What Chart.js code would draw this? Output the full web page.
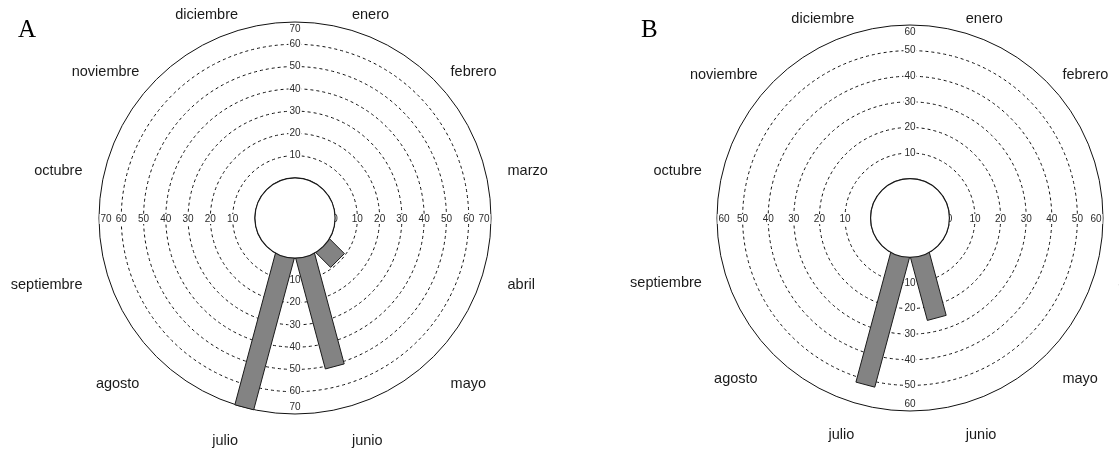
<!DOCTYPE html>
<html lang="es">
<head>
<meta charset="utf-8">
<title>Diagramas circulares mensuales A y B</title>
<script src="https://cdn.jsdelivr.net/npm/chart.js@4.4.1/dist/chart.umd.min.js"></script>
<style>
html, body { margin: 0; padding: 0; background: #fff; }
#wrap { position: relative; width: 1119px; height: 450px; overflow: hidden; background: #fff; }
.panel { position: absolute; top: 0; height: 450px; }
#panelA { left: 0; width: 560px; }
#panelB { left: 560px; width: 559px; }
</style>
</head>
<body>
<div id="wrap">
  <div class="panel" id="panelA"><canvas id="chartA" width="560" height="450"></canvas></div>
  <div class="panel" id="panelB"><canvas id="chartB" width="559" height="450"></canvas></div>
</div>
<script>
'use strict';

/* ── Données ── */
var MONTHS = ['enero', 'febrero', 'marzo', 'abril', 'mayo', 'junio',
              'julio', 'agosto', 'septiembre', 'octubre', 'noviembre', 'diciembre'];
var VALUES_A = [0, 0, 0, 0, 9, 51, 70, 0, 0, 0, 0, 0];
var VALUES_B = [0, 0, 0, 0, 0, 25, 52, 0, 0, 0, 0, 0];
var TICKS_A = [10, 20, 30, 40, 50, 60, 70];
var TICKS_B = [10, 20, 30, 40, 50, 60];

/* ── Étiquette de graduation avec fond blanc (coupe les cercles pointillés) ── */
function tickLabel(ctx, txt, x, y) {
    var w = ctx.measureText(txt).width;
    ctx.fillStyle = '#fff';
    ctx.fillRect(x - w / 2 - 1, y - 5, w + 2, 10);
    ctx.fillStyle = '#2b2b2b';
    ctx.fillText(txt, x, y);
}

/* ── Plugin : étiquettes, barres rectangulaires, disque central ── */
var rosePlugin = {
    id: 'rose',
    beforeDatasetsDraw: function (chart, args, opts) {
        var s = chart.scales.r, ctx = chart.ctx;
        var cx = s.xCenter, cy = s.yCenter;
        ctx.save();
        ctx.font = '10px "Liberation Sans", Arial, sans-serif';
        ctx.textAlign = 'center';
        ctx.textBaseline = 'middle';
        opts.ticks.forEach(function (v) {
            var r = s.getDistanceFromCenterForValue(v);
            if (v === s.max) { r -= opts.outerInset; }
            var txt = String(v);
            tickLabel(ctx, txt, cx + r, cy + 1);
            tickLabel(ctx, txt, cx - r, cy + 1);
            tickLabel(ctx, txt, cx, cy - r);
            tickLabel(ctx, txt, cx, cy + r);
        });
        /* le « 0 » à moitié caché par le disque */
        tickLabel(ctx, '0', cx + s.getDistanceFromCenterForValue(0), cy + 1);
        ctx.restore();
    },
    afterDatasetsDraw: function (chart, args, opts) {
        var s = chart.scales.r, ctx = chart.ctx;
        var cx = s.xCenter, cy = s.yCenter;
        var r0 = s.getDistanceFromCenterForValue(0);
        var values = chart.data.datasets[0].data;
        var hw = opts.barWidth / 2;
        ctx.save();
        chart.getDatasetMeta(0).data.forEach(function (arc, i) {
            var v = values[i];
            if (!v) { return; }
            var a = (arc.startAngle + arc.endAngle) / 2;
            var ux = Math.cos(a), uy = Math.sin(a);
            var px = -uy, py = ux;
            var ra = r0 - 4, rb = s.getDistanceFromCenterForValue(v);
            ctx.beginPath();
            ctx.moveTo(cx + ux * ra + px * hw, cy + uy * ra + py * hw);
            ctx.lineTo(cx + ux * rb + px * hw, cy + uy * rb + py * hw);
            ctx.lineTo(cx + ux * rb - px * hw, cy + uy * rb - py * hw);
            ctx.lineTo(cx + ux * ra - px * hw, cy + uy * ra - py * hw);
            ctx.closePath();
            ctx.fillStyle = '#838383';
            ctx.fill();
            ctx.lineWidth = 1;
            ctx.strokeStyle = '#1a1a1a';
            ctx.stroke();
        });
        /* disque central */
        ctx.beginPath();
        ctx.arc(cx, cy, r0, 0, Math.PI * 2);
        ctx.fillStyle = '#fff';
        ctx.fill();
        ctx.lineWidth = 1.2;
        ctx.strokeStyle = '#1a1a1a';
        ctx.stroke();
        ctx.restore();
    },
    afterDraw: function (chart, args, opts) {
        var s = chart.scales.r, ctx = chart.ctx;
        var cx = s.xCenter, cy = s.yCenter + opts.labelShift;
        ctx.save();
        ctx.font = '14.5px "Liberation Sans", Arial, sans-serif';
        ctx.fillStyle = '#1a1a1a';
        ctx.textBaseline = 'middle';
        chart.getDatasetMeta(0).data.forEach(function (arc, i) {
            var a = (arc.startAngle + arc.endAngle) / 2;
            var x = cx + Math.cos(a) * opts.labelRadius;
            var y = cy + Math.sin(a) * opts.labelRadius;
            ctx.textAlign = Math.cos(a) >= 0 ? 'left' : 'right';
            ctx.fillText(chart.data.labels[i], x, y);
        });
        /* lettre du panneau */
        ctx.font = '25px "Liberation Serif", "Times New Roman", serif';
        ctx.fillStyle = '#000';
        ctx.textAlign = 'left';
        ctx.textBaseline = 'alphabetic';
        ctx.fillText(opts.letter, opts.letterX, 37);
        ctx.restore();
    }
};

function buildRose(id, values, ticks, cfg) {
    var max = cfg.max;
    return new Chart(document.getElementById(id), {
        type: 'polarArea',
        data: {
            labels: MONTHS,
            datasets: [{ data: values, backgroundColor: 'rgba(0,0,0,0)', borderWidth: 0 }]
        },
        options: {
            responsive: false,
            animation: false,
            events: [],
            layout: { padding: cfg.padding },
            scales: {
                r: {
                    min: cfg.min,
                    max: max,
                    startAngle: 0,
                    ticks: { display: false, stepSize: 10 },
                    afterBuildTicks: function (scale) {
                        scale.ticks = scale.ticks.filter(function (t) { return t.value >= 0; });
                    },
                    grid: { circular: true, color: '#111', lineWidth: 1 },
                    border: {
                        dash: function (c) {
                            return (c.tick && c.tick.value > 0 && c.tick.value < max) ? [3, 3] : [];
                        }
                    },
                    angleLines: { display: false },
                    pointLabels: { display: false }
                }
            },
            plugins: {
                legend: { display: false },
                tooltip: { enabled: false },
                rose: {
                    ticks: ticks,
                    outerInset: 7,
                    barWidth: 19.5,
                    labelRadius: cfg.labelRadius,
                    labelShift: cfg.labelShift,
                    letter: cfg.letter,
                    letterX: cfg.letterX
                }
            }
        },
        plugins: [rosePlugin]
    });
}

buildRose('chartA', VALUES_A, TICKS_A, {
    min: -18, max: 70,
    padding: { left: 99, right: 69, top: 22.5, bottom: 35.5 },
    labelRadius: 220, labelShift: 10,
    letter: 'A', letterX: 18
});

buildRose('chartB', VALUES_B, TICKS_B, {
    min: -15.4, max: 60,
    padding: { left: 157, right: 15, top: 25, bottom: 38 },
    labelRadius: 215.5, labelShift: 9,
    letter: 'B', letterX: 81
});
</script>
</body>
</html>
